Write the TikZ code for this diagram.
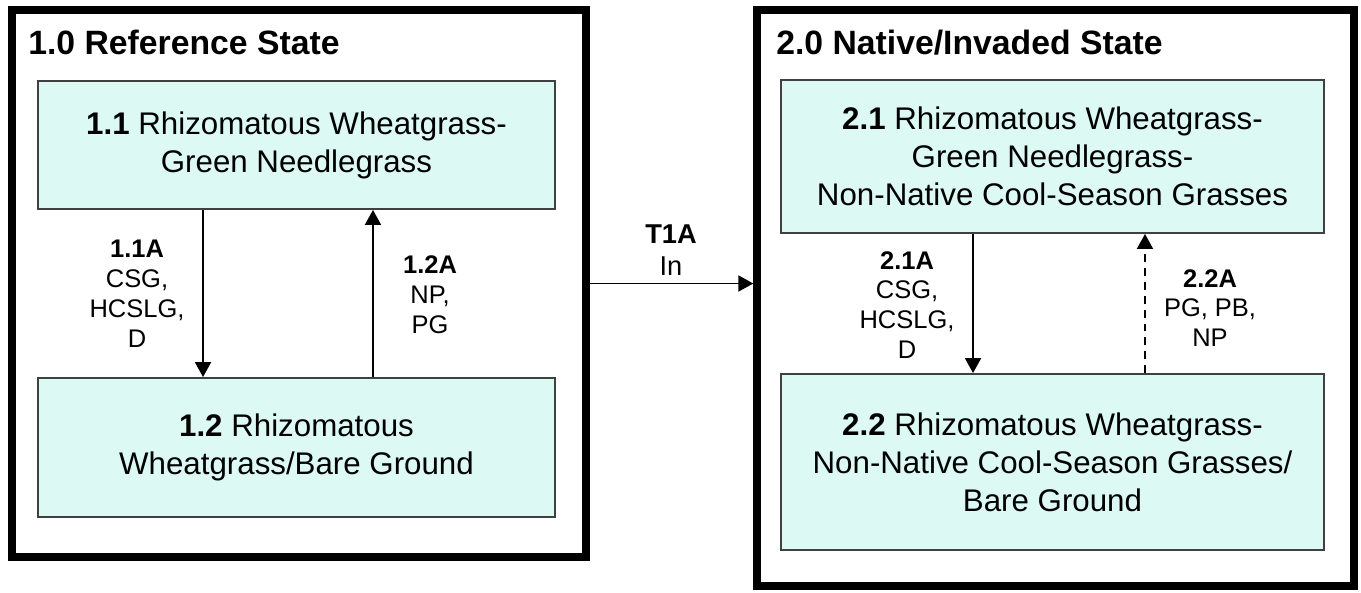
\documentclass[tikz,border=0pt]{standalone}
\usepackage{fontspec}
\setmainfont{Liberation Sans}
\usetikzlibrary{arrows.meta}
\definecolor{statefill}{RGB}{220,250,243}

\begin{document}
\begin{tikzpicture}[x=0.02cm, y=-0.02cm,
  outerbox/.style={draw=black, line width=0.15cm, inner sep=0pt},
  phasebox/.style={draw=black!75, line width=1.1pt, fill=statefill, align=center,
    inner sep=0pt, font=\fontsize{17.8}{21.6}\selectfont},
  pathlabel/.style={align=center, inner sep=0pt, font=\fontsize{14.5}{17}\selectfont},
  titletext/.style={anchor=base west, inner sep=0pt, font=\fontsize{19.2}{23}\selectfont\bfseries},
  trans/.style={line width=1.1pt, -{Triangle[width=0.32cm,length=0.3cm]}}]
\useasboundingbox (0,0) rectangle (1361,592);

% Draw the two state boxes
\node[outerbox, minimum width=11.48cm, minimum height=10.94cm] (s1) at (299,283.5) {};
\node[outerbox, minimum width=11.94cm, minimum height=11.52cm] (s2) at (1055.5,298) {};
\node[titletext] (t1) at (28,54) {1.0 Reference State};
\node[titletext] (t2) at (776,54) {2.0 Native/Invaded State};

% Community phases
\node[phasebox, minimum width=10.34cm, minimum height=2.56cm] (b11) at (296.5,145)
  {\textbf{1.1} Rhizomatous Wheatgrass-\\Green Needlegrass};
\node[phasebox, minimum width=10.34cm, minimum height=2.78cm] (b12) at (296.5,447.5)
  {\textbf{1.2} Rhizomatous\\Wheatgrass/Bare Ground};
\node[phasebox, minimum width=10.86cm, minimum height=3.06cm] (b21) at (1052.5,156.5)
  {\textbf{2.1} Rhizomatous Wheatgrass-\\Green Needlegrass-\\Non-Native Cool-Season Grasses};
\node[phasebox, minimum width=10.86cm, minimum height=3.52cm] (b22) at (1052.5,462)
  {\textbf{2.2} Rhizomatous Wheatgrass-\\Non-Native Cool-Season Grasses/\\Bare Ground};

% Pathways
\draw[trans] ([xshift=-1.87cm]b11.south) -- ([xshift=-1.87cm]b12.north);
\draw[trans] ([xshift=1.53cm]b12.north) -- ([xshift=1.53cm]b11.south);
\draw[trans] ([xshift=-1.59cm]b21.south) -- ([xshift=-1.59cm]b22.north);
\draw[trans, dash pattern=on 4.5pt off 3.4pt] ([xshift=1.85cm]b22.north) -- ([xshift=1.85cm]b21.south);
\node[pathlabel] (l11) at (137,294) {\textbf{1.1A}\\CSG,\\HCSLG,\\D};
\node[pathlabel] (l12) at (430,295) {\textbf{1.2A}\\NP,\\PG};
\node[pathlabel] (l21) at (907,305) {\textbf{2.1A}\\CSG,\\HCSLG,\\D};
\node[pathlabel] (l22) at (1210,308) {\textbf{2.2A}\\PG, PB,\\NP};

% Transition
\draw[trans] (s1.east) -- (s1.east -| s2.west);
\node[pathlabel, font=\fontsize{15.5}{18}\selectfont] (lt1) at (671,250) {\textbf{T1A}\\In};
\end{tikzpicture}
\end{document}
